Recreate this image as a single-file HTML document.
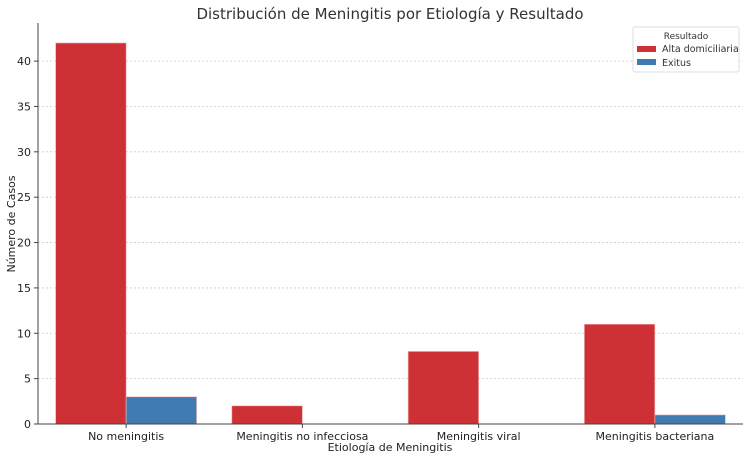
<!DOCTYPE html>
<html><head><meta charset="utf-8"><style>
body{margin:0;background:#fff;font-family:"Liberation Sans","DejaVu Sans",sans-serif}
svg text{font-family:"DejaVu Sans","Liberation Sans",sans-serif}
</style></head><body>
<svg id="c" width="750" height="459">
<text x="390" y="19" text-anchor="middle" font-size="15" fill="#333">Distribución de Meningitis por Etiología y Resultado</text>
<g id="grid"></g><g id="bars"></g><g id="axes"></g>
<text x="390" y="451" text-anchor="middle" font-size="11" fill="#222">Etiología de Meningitis</text>
<text transform="translate(15,224) rotate(-90)" text-anchor="middle" font-size="11" fill="#222">Número de Casos</text>
<g>
<rect x="633" y="27" width="106" height="45" rx="2" fill="#fff" stroke="#ddd"/>
<text x="686" y="39" text-anchor="middle" font-size="9" fill="#333">Resultado</text>
<rect x="637" y="46" width="19" height="6" fill="#cd3035"/>
<text x="662" y="52" font-size="9.5" fill="#333">Alta domiciliaria</text>
<rect x="637" y="59" width="19" height="6" fill="#3f7bb0"/>
<text x="662" y="66" font-size="9.5" fill="#333">Exitus</text>
</g>
</svg>
<script>
const categories=["No meningitis","Meningitis no infecciosa","Meningitis viral","Meningitis bacteriana"];
const altaValues=[42,2,8,11];
const exitusValues=[3,0,0,1];
const yTicks=[0,5,10,15,20,25,30,35,40];
const NS="http://www.w3.org/2000/svg";
const L=38,R=743,B=424,T=23,yMax=44.2;
const y=v=>B-(v/yMax)*(B-T);
const step=(R-L)/categories.length;
const xc=i=>L+step*(i+0.5);
const bw=70.5;
function mk(tag,at,p){const e=document.createElementNS(NS,tag);for(const k in at)e.setAttribute(k,at[k]);p.appendChild(e);return e;}
const g=document.getElementById('grid'),b=document.getElementById('bars'),a=document.getElementById('axes');
yTicks.forEach(t=>{
 if(t>0){const l=mk('line',{x1:L,x2:R,y1:y(t),y2:y(t),stroke:'#ccc','stroke-dasharray':'2,2','stroke-width':0.8},g);
 
 }
 mk('line',{x1:L-4,x2:L,y1:y(t),y2:y(t),stroke:'#444'},a);
 const tx=mk('text',{x:L-7,y:y(t)+4,'text-anchor':'end','font-size':11,fill:'#222'},a);tx.textContent=t;
 
 
});
categories.forEach((c,i)=>{
 [[altaValues,'#cd3035',-1,'alta'],[exitusValues,'#3f7bb0',0,'exitus']].forEach(([arr,col,off,nm])=>{
  const v=arr[i];
  const r=mk('rect',{x:xc(i)+off*bw,y:y(v),width:bw,height:B-y(v),fill:col,stroke:v>0?'#f2b8b8':'none','stroke-width':0.6},b);
  
  
 });
 mk('line',{x1:xc(i),x2:xc(i),y1:B,y2:B+4,stroke:'#444'},a);
 const tx=mk('text',{x:xc(i),y:B+16,'text-anchor':'middle','font-size':11,fill:'#222'},a);tx.textContent=c;
 
 
});
mk('line',{x1:L,x2:L,y1:T,y2:B,stroke:'#444'},a);
mk('line',{x1:L,x2:R,y1:B,y2:B,stroke:'#444'},a);
</script>
</body></html>
